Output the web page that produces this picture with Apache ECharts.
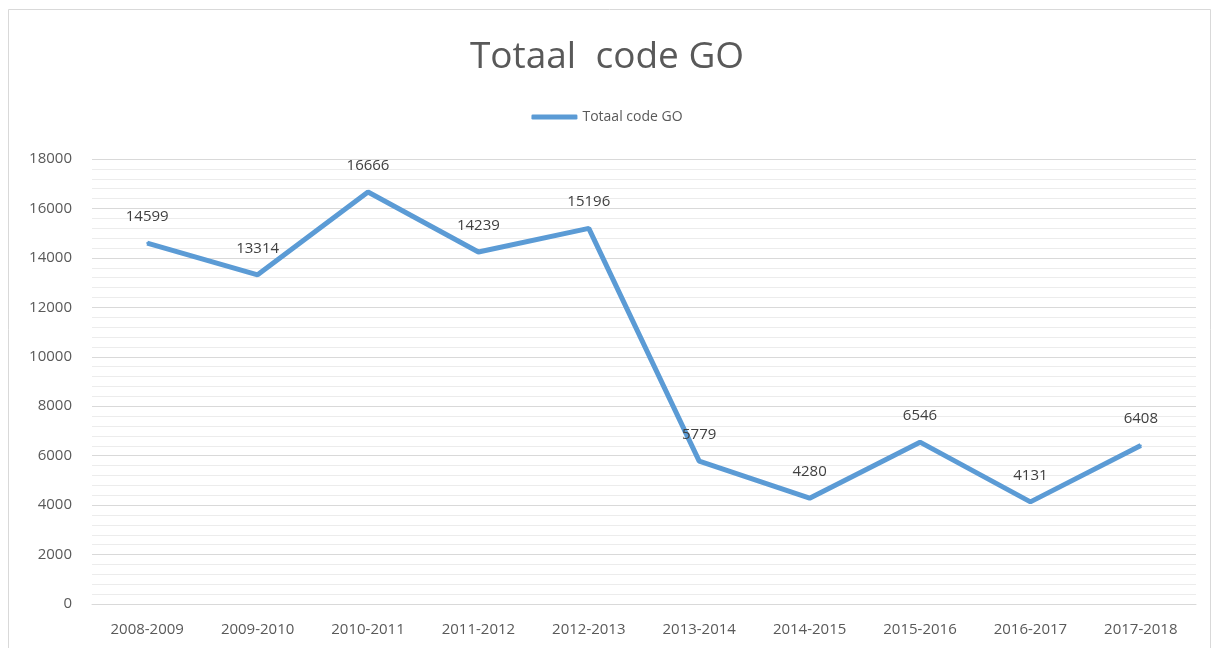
<!DOCTYPE html>
<html><head><meta charset="utf-8">
<script src="https://cdn.jsdelivr.net/npm/echarts@6/dist/echarts.min.js"></script>
<style>html,body{margin:0;padding:0;background:#fff}#c{width:1214px;height:648px}</style>
</head><body><div id="c"></div>
<script>
const categories = ['2008-2009','2009-2010','2010-2011','2011-2012','2012-2013','2013-2014','2014-2015','2015-2016','2016-2017','2017-2018'];
const values = [14599,13314,16666,14239,15196,5779,4280,6546,4131,6408];
const seriesName = 'Totaal code GO';
const chartTitle = 'Totaal  code GO';

const chart = echarts.init(document.getElementById('c'));
chart.setOption({
  animation: false,
  backgroundColor: '#fff',
  graphic: [{type:'rect', shape:{x:8.5,y:9.5,width:1202,height:660}, style:{fill:'none',stroke:'#d9d9d9',lineWidth:1}, silent:true}],
  title: {text: chartTitle, left: 'center', top: 34, textStyle:{fontFamily:'Open Sans', fontWeight:'normal', fontSize:37, color:'#595959'}},
  legend: {top: 105, left: 'center', itemWidth: 46, itemHeight: 5, itemGap: 4,
    icon: 'roundRect',
    textStyle:{fontFamily:'Open Sans', fontSize:14, color:'#595959'},
    data:[{name: seriesName, itemStyle:{color:'#5b9bd5', opacity:1}}]},
  grid: {left: 92, right: 18, top: 159, bottom: 44, containLabel: false},
  xAxis: {type:'category', data: categories, boundaryGap: true,
    axisLine:{lineStyle:{color:'#d9d9d9'}}, axisTick:{show:false},
    axisLabel:{fontFamily:'Open Sans', fontSize:15, color:'#595959', margin:18}},
  yAxis: {type:'value', min:0, max:18000, interval:2000,
    axisLine:{show:false}, axisTick:{show:false},
    axisLabel:{fontFamily:'Open Sans', fontSize:15, color:'#595959', margin:20, formatter: v => String(v)},
    splitLine:{lineStyle:{color:'#d9d9d9'}},
    minorTick:{show:false, splitNumber:5},
    minorSplitLine:{show:true, lineStyle:{color:'#ececec'}}},
  series: [{name: seriesName, type:'line', data: values, showSymbol:true, symbol:'circle', symbolSize:2,
    lineStyle:{color:'#5b9bd5', width:5}, itemStyle:{color:'#5b9bd5', borderWidth:0},
    label:{show:true, position:'top', distance:18, fontFamily:'Open Sans', fontSize:15, color:'#404040'}}]
});
</script></body></html>
